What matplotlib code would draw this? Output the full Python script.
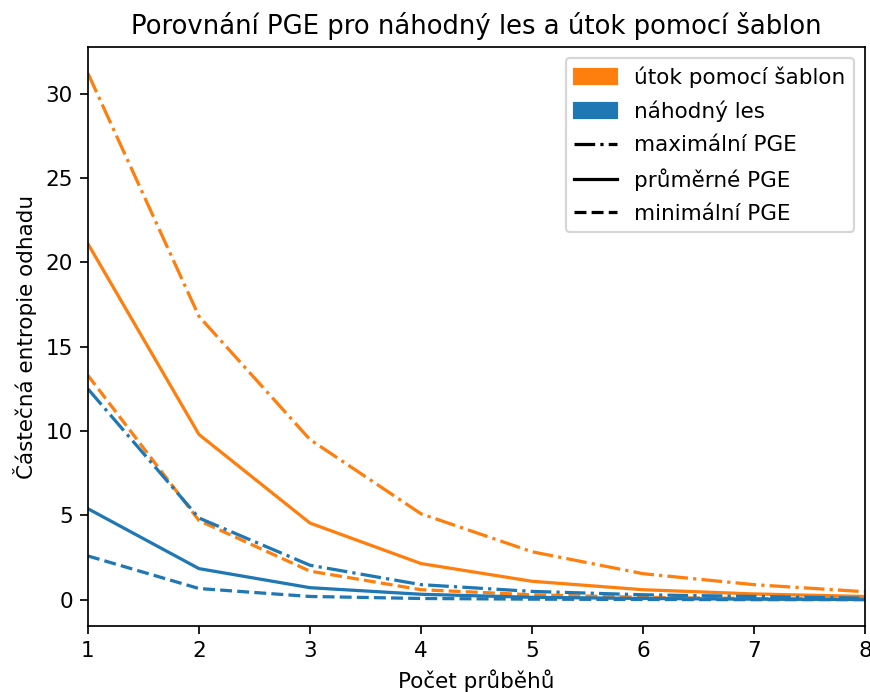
import matplotlib
matplotlib.use("Agg")
import matplotlib.pyplot as plt
from matplotlib.patches import Patch
from matplotlib.lines import Line2D

runs = [1, 2, 3, 4, 5, 6, 7, 8]

# útok pomocí šablon
tpl_max = [31.2, 16.8, 9.5, 5.1, 2.85, 1.55, 0.9, 0.48]
tpl_mean = [21.1, 9.8, 4.55, 2.15, 1.1, 0.6, 0.35, 0.2]
tpl_min = [13.3, 4.7, 1.7, 0.6, 0.3, 0.15, 0.08, 0.05]

# náhodný les
rf_max = [12.5, 4.85, 2.05, 0.9, 0.5, 0.3, 0.2, 0.1]
rf_mean = [5.4, 1.85, 0.72, 0.33, 0.15, 0.08, 0.04, 0.02]
rf_min = [2.6, 0.67, 0.2, 0.08, 0.04, 0.02, 0.01, 0.01]

c_tpl = 'tab:orange'
c_rf = 'tab:blue'

dpi = 155
fig = plt.figure(figsize=(870 / dpi, 692 / dpi), dpi=dpi)
ax = fig.add_axes([0.1011, 0.0954, 0.8932, 0.8366])

ax.plot(runs, tpl_max, '-.', color=c_tpl)
ax.plot(runs, tpl_mean, '-', color=c_tpl)
ax.plot(runs, tpl_min, '--', color=c_tpl)
ax.plot(runs, rf_max, '-.', color=c_rf)
ax.plot(runs, rf_mean, '-', color=c_rf)
ax.plot(runs, rf_min, '--', color=c_rf)

ax.set_xlim(1, 8)
ax.set_title('Porovnání PGE pro náhodný les a útok pomocí šablon')
ax.set_xlabel('Počet průběhů')
ax.set_ylabel('Částečná entropie odhadu')

handles = [
    Patch(color=c_tpl, label='útok pomocí šablon'),
    Patch(color=c_rf, label='náhodný les'),
    Line2D([], [], color='black', linestyle='-.', label='maximální PGE'),
    Line2D([], [], color='black', linestyle='-', label='průměrné PGE'),
    Line2D([], [], color='black', linestyle='--', label='minimální PGE'),
]
ax.legend(handles=handles, loc='upper right', labelspacing=0.6)

fig.savefig('out.png', dpi=dpi)
